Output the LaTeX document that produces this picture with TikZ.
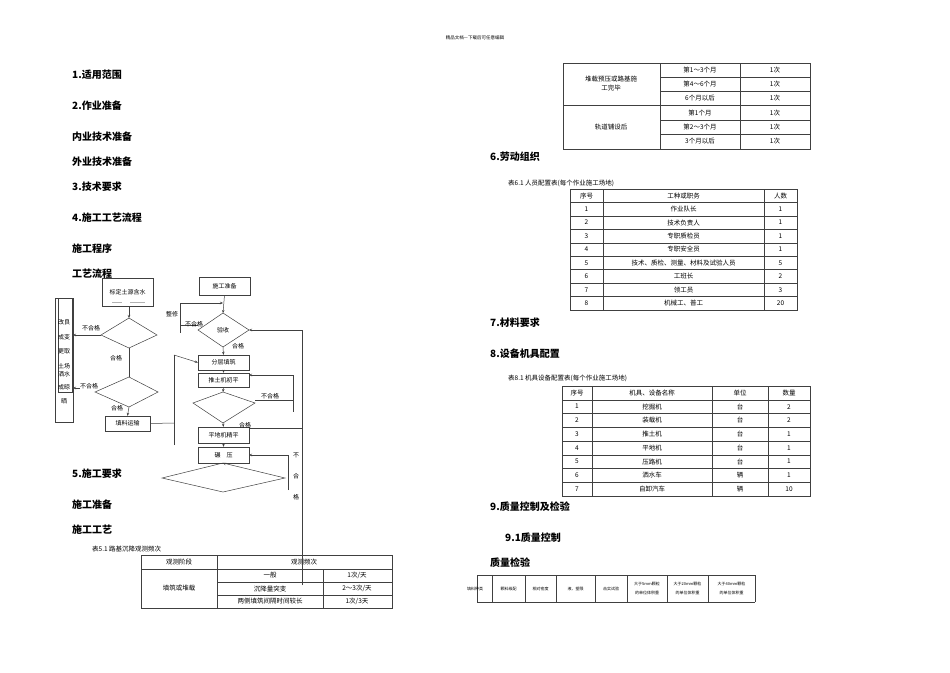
\documentclass[tikz,border=0pt]{standalone}
\usepackage{fontspec}
\setmainfont{Noto Sans CJK SC}
\usetikzlibrary{arrows.meta}
\begin{document}
\begin{tikzpicture}[x=1pt,y=-1pt,
  hd/.style={anchor=west,font=\fontsize{10}{10}\selectfont\bfseries,inner sep=0},
  tx/.style={font=\fontsize{6.5}{7}\selectfont,inner sep=0},
  sm/.style={font=\fontsize{4}{6}\selectfont,inner sep=0,align=center},
  fl/.style={font=\fontsize{6}{6}\selectfont,inner sep=0},
  ln/.style={draw=black!75,line width=0.5pt},
  ar/.style={ln,-{Stealth[length=3pt,width=2.5pt]}}]
\useasboundingbox (0,0) rectangle (950,672);
\fill[white] (0,0) rectangle (950,672);
\node[font=\fontsize{4.5}{5}\selectfont] (top) at (475,38) {精品文档---下载后可任意编辑};
% left headings
\node[hd] (h1) at (72,75) {1.适用范围};
\node[hd] (h2) at (72,106) {2.作业准备};
\node[hd] (h3) at (72,137) {内业技术准备};
\node[hd] (h4) at (72,162) {外业技术准备};
\node[hd] (h5) at (72,187) {3.技术要求};
\node[hd] (h6) at (72,218) {4.施工工艺流程};
\node[hd] (h7) at (72,249) {施工程序};
\node[hd] (h8) at (72,274) {工艺流程};
\node[hd] (h9) at (72,474) {5.施工要求};
\node[hd] (h10) at (72,505) {施工准备};
\node[hd] (h11) at (72,530) {施工工艺};
% right headings
\node[hd] (r1) at (490,157) {6.劳动组织};
\node[hd] (r2) at (490,323) {7.材料要求};
\node[hd] (r3) at (490,354) {8.设备机具配置};
\node[hd] (r4) at (490,507) {9.质量控制及检验};
\node[hd] (r5) at (505,538) {9.1质量控制};
\node[hd] (r6) at (490,563) {质量检验};
% top-right table
\begin{scope}[ln]
\draw (563,63) rectangle (810,149);
\draw (660,63) -- (660,149); \draw (740,63) -- (740,149);
\foreach \y in {77,91,120,134} \draw (660,\y) -- (810,\y);
\draw (563,105.5) -- (810,105.5);
\end{scope}
\node[tx,align=center] (t1a) at (611,84) {堆载预压或路基施\\[2pt]工完毕};
\node[tx] at (611,127) {轨道铺设后};
\foreach \y/\a/\b in {70/第1～3个月/1次/周,84/第4～6个月/1次/2周,98/6个月以后/1次/月,113/第1个月/1次/2周,127/第2～3个月/1次/月,141.5/3个月以后/1次/3月}{
 \node[tx] at (700,\y) {\a}; \node[tx] at (775,\y) {\b};}
% table 6.1
\node[tx,anchor=west] (c61) at (508,183) {表6.1 人员配置表(每个作业施工场地)};
\begin{scope}[ln]
\draw (570,189) rectangle (797,310);
\draw (603,189) -- (603,310); \draw (764,189) -- (764,310);
\foreach \i in {1,...,8} \draw (570,189+\i*13.44) -- (797,189+\i*13.44);
\end{scope}
\foreach \i/\a/\b/\c in {0/序号/工种或职务/人数,1/1/作业队长/1,2/2/技术负责人/1,3/3/专职质检员/1,4/4/专职安全员/1,5/5/技术、质检、测量、材料及试验人员/5,6/6/工班长/2,7/7/领工员/3,8/8/机械工、普工/20}{
 \node[tx] at (586.5,195.7+\i*13.44) {\a};
 \node[tx] at (683.5,195.7+\i*13.44) {\b};
 \node[tx] at (780.5,195.7+\i*13.44) {\c};}
% table 8.1
\node[tx,anchor=west] (c81) at (508,378) {表8.1 机具设备配置表(每个作业施工场地)};
\begin{scope}[ln]
\draw (562,386) rectangle (810,496);
\foreach \x in {592,712,768} \draw (\x,386) -- (\x,496);
\foreach \i in {1,...,7} \draw (562,386+\i*13.75) -- (810,386+\i*13.75);
\end{scope}
\foreach \i/\a/\b/\c/\d in {0/序号/机具、设备名称/单位/数量,1/1/挖掘机/台/2,2/2/装载机/台/2,3/3/推土机/台/1,4/4/平地机/台/1,5/5/压路机/台/1,6/6/洒水车/辆/1,7/7/自卸汽车/辆/10}{
 \node[tx] at (577,392.9+\i*13.75) {\a};
 \node[tx] at (652,392.9+\i*13.75) {\b};
 \node[tx] at (740,392.9+\i*13.75) {\c};
 \node[tx] at (789,392.9+\i*13.75) {\d};}
% quality table
\begin{scope}[ln]
\draw (477,575) -- (755,575); \draw (477,602) -- (755,602);
\foreach \x in {477,492,525,556,595,627,667,708,755} \draw (\x,575) -- (\x,602);
\end{scope}
\node[sm] at (475,588.5) {填料种类};
\node[sm] at (508.5,588.5) {颗料级配};
\node[sm] at (540.5,588.5) {相对密度};
\node[sm] at (575.5,588.5) {液、塑限};
\node[sm] at (611,588.5) {击实试验};
\node[sm] at (647,588.5) {大于5mm颗粒\\[3pt]的单位体积重};
\node[sm] at (687.5,588.5) {大于20mm颗粒\\[3pt]的单位体积重};
\node[sm] at (731.5,588.5) {大于40mm颗粒\\[3pt]的单位体积重};
% table 5.1
\node[tx,anchor=west] (c51) at (92,549) {表5.1 路基沉降观测频次};
\begin{scope}[ln]
\draw (141,555) rectangle (392,608);
\draw (217,555) -- (217,608); \draw (323,569) -- (323,608);
\draw (141,569) -- (392,569);
\draw (217,582) -- (392,582); \draw (217,595) -- (392,595);
\end{scope}
\node[tx] at (179,562) {观测阶段};
\node[tx] at (304,562) {观测频次};
\node[tx] at (179,588.5) {填筑或堆载};
\node[tx] at (270,575.5) {一般}; \node[tx] at (357,575.5) {1次/天};
\node[tx] at (270,588.5) {沉降量突变}; \node[tx] at (357,588.5) {2～3次/天};
\node[tx] at (270,601.5) {两侧填筑间隔时间较长}; \node[tx] at (357,601.5) {1次/3天};
% ---------- flowchart ----------
\node[draw=black!75,fill=white,minimum width=51pt,minimum height=28pt,fl,anchor=north west] (bd) at (102,278) {};
\node[fl] at (127.5,292) {标定土源含水};
\draw[black!30,line width=0.6pt] (112,302) -- (122,302) (130,302) -- (145,302);
\node[draw=black!75,minimum width=18pt,minimum height=124pt,anchor=north west] (lb) at (55,298) {};
\draw[ln] (58,298) rectangle (72,392);
\foreach \y/\t in {322/改良,337/成变,351/更取,366/土场,374/洒水,387/成晾,401/晒} \node[fl] at (64,\y) {\t};
\node[draw=black!75,shape=coordinate] (d1) at (129,335) {};
\draw[ln] (101,335) -- (129,318) -- (157,335) -- (129,348) -- cycle;
\draw[ln] (95,392) -- (129,377) -- (158,392) -- (129,407) -- cycle;
\node[draw=black!75,minimum width=45pt,minimum height=15pt,fl] (ys) at (127.5,423.5) {填料运输};
\draw[ar] (129,306) -- (129,318);
\draw[ln] (129,348) -- (129,377);
\draw[ar] (129,407) -- (ys.north);
\draw[ar] (101,335) -- (73,335); \node[fl,fill=white] at (91,328) {不合格};
\draw[ar] (95,388) -- (73,388); \node[fl,fill=white] at (89,386) {不合格};
\node[fl] at (116,358) {合格};
\node[fl] at (117,408) {合格};
% right column
\node[draw=black!75,minimum width=51pt,minimum height=18pt,fl] (zb) at (224.5,286) {施工准备};
\draw[ln] (198,330) -- (223,313) -- (249,330) -- (223,347) -- cycle;
\node[fl] at (223,330) {验收};
\node[draw=black!75,minimum width=51pt,minimum height=15pt,fl] (fc) at (223.5,362.5) {分层填筑};
\node[draw=black!75,minimum width=51pt,minimum height=14pt,fl] (tt) at (223.5,380) {推土机初平};
\draw[ln] (193,403) -- (223,392) -- (255,403) -- (223,423) -- cycle;
\node[draw=black!75,minimum width=51pt,minimum height=16pt,fl] (pd) at (223.5,435) {平地机精平};
\node[draw=black!75,minimum width=51pt,minimum height=16pt,fl] (ny) at (223.5,455) {碾\quad 压};
\draw[ln] (162,478) -- (223,463) -- (285,478) -- (223,492) -- cycle;
\draw[ar] (zb.south) -- (223,313);
\draw[ar] (223,347) -- (fc.north);
\draw[ar] (fc.south) -- (tt.north);
\draw[ar] (tt.south) -- (223,392);
\draw[ar] (223,423) -- (pd.north);
\draw[ar] (pd.south) -- (ny.north);
\draw[ar] (ny.south) -- (223,463);
% 整修 loop
\draw[ln] (198,325) -- (180,325) -- (180,303);
\draw[ar] (180,303) -- (223,303);
\draw[ln] (180,325) -- (180,333);
\node[fl] at (172,314) {整修};
\node[fl] at (194,324) {不合格};
\node[fl] at (238,346) {合格};
% 填料运输 -> 分层填筑
\draw[ln] (ys.east) -- (174,423);
\draw[ln] (174,445) -- (174,355);
\draw[ar] (174,355) -- (fc.west);
% 推土机 loop
\draw[ln] (255,400) -- (293,400) -- (293,412);
\draw[ar] (293,400) -- (293,375) -- (249,375);
\node[fl] at (270,396) {不合格};
\node[fl] at (245,425) {合格};
% long right line
\draw[ln] (249,428) -- (302,428);
\draw[ar] (302,585) -- (302,330) -- (249,330);
% 碾压 loop
\draw[ar] (288,490) -- (288,455) -- (249,455);
\node[fl] at (296,455) {不};
\node[fl] at (296,476) {合};
\node[fl] at (296,497) {格};
\end{tikzpicture}
\end{document}
